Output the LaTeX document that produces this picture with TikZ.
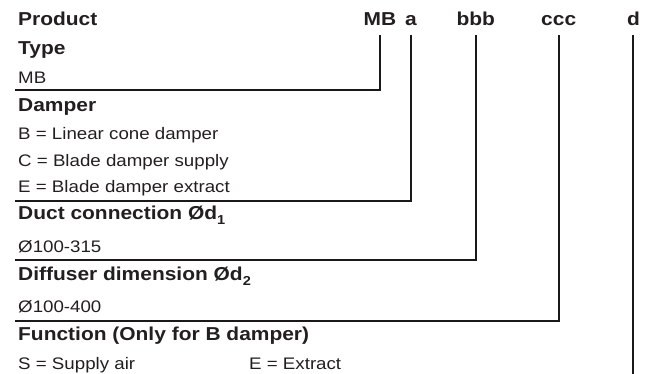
\documentclass[tikz,border=0pt]{standalone}
\usepackage{fontspec}
\setmainfont{Liberation Sans}[FakeStretch=1.12]
\definecolor{ink}{RGB}{35,31,32}
\definecolor{rule}{RGB}{26,24,24}
\newcommand{\subnum}[1]{\raisebox{-5pt}{\fontsize{13}{13}\selectfont\bfseries #1}}
\tikzset{
  head/.style={anchor=base west, inner sep=0pt, text=ink, font=\fontsize{18.7}{22}\selectfont\bfseries},
  plain/.style={anchor=base west, inner sep=0pt, text=ink, font=\fontsize{16.7}{20}\selectfont},
  code/.style={anchor=base, inner sep=0pt, text depth=0pt, text=ink, font=\fontsize{18.7}{22}\selectfont\bfseries},
  link/.style={draw=rule, line width=2.2pt, line cap=butt, line join=miter}
}
\begin{document}
\begin{tikzpicture}[x=1pt,y=-1pt]
\useasboundingbox (0,0) rectangle (654,374);
% header codes
\node[head] (product) at (18,26) {Product};
\node[code] (mb)  at (380,26) {MB};
\node[code] (ca)  at (411,26) {a};
\node[code] (cb)  at (475.7,26) {bbb};
\node[code] (cc)  at (558.7,26) {ccc};
\node[code] (cd)  at (633.5,26) {d};
% left column
\node[head]  (type)   at (18,55)    {Type};
\node[plain] (typemb) at (18,83.3)  {MB};
\node[head]  (damper) at (18,111.7) {Damper};
\node[plain] (dB)     at (18,139.5) {B = Linear cone damper};
\node[plain] (dC)     at (18,166.2) {C = Blade damper supply};
\node[plain] (dE)     at (18,193)   {E = Blade damper extract};
\node[head]  (duct)   at (18,220)   {Duct connection Ød\subnum{1}};
\node[plain] (ductv)  at (18,253)   {Ø100-315};
\node[head]  (diff)   at (18,280.5) {Diffuser dimension Ød\subnum{2}};
\node[plain] (diffv)  at (18,313)   {Ø100-400};
\node[head]  (func)   at (18,340.5) {Function (Only for B damper)};
\node[plain] (fS)     at (18,370)   {S = Supply air};
\node[plain] (fE)     at (249,370)  {E = Extract};
% line ends
\coordinate (mbend) at (15,90);
\coordinate (aend)  at (15,200.7);
\coordinate (bend)  at (15,260.3);
\coordinate (cend)  at (15,320.7);
\coordinate (dend)  at (633,374);
% connectors
\draw[link] ([yshift=-9pt]mb.south) |- (mbend);
\draw[link] ([yshift=-9pt]ca.south) |- (aend);
\draw[link] ([yshift=-9pt]cb.south) |- (bend);
\draw[link] ([yshift=-9pt]cc.south) |- (cend);
\draw[link] ([yshift=-9pt,xshift=-0.5pt]cd.south) -- (dend);
\end{tikzpicture}
\end{document}
